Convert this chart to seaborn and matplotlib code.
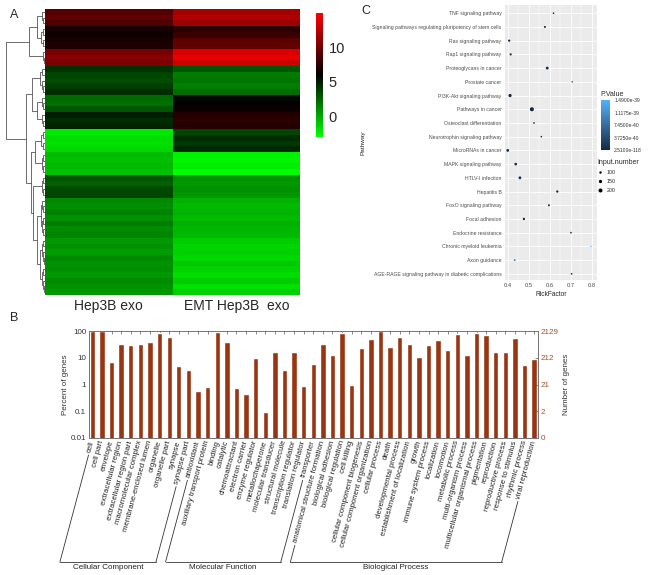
import numpy as np
import pandas as pd
import matplotlib
matplotlib.use('Agg')
import matplotlib.pyplot as plt
import seaborn as sns
from matplotlib.colors import LinearSegmentedColormap, Normalize
from matplotlib.cm import ScalarMappable
from matplotlib.lines import Line2D
from matplotlib.ticker import NullLocator
from matplotlib.transforms import IdentityTransform

# ---- panel A: expression heatmap ----
samples = ['Hep3B exo', 'EMT Hep3B  exo']
hep3b = [9.0, 9.4, 8.8, 6.8, 6.5, 6.9, 7.0, 10.2, 10.8, 10.4,
         4.2, 3.6, 3.3, 3.8, 4.4, 2.3, 2.0, 3.0, 5.0, 4.4, 4.8,
         -2.2, -1.8, -1.9, -1.6, -0.6, -0.7, -0.5, -0.8,
         3.0, 2.6, 3.4, 3.6, 1.2, 1.0, 1.4, 0.9, 1.6, 1.1, 1.3,
         0.6, 0.9, 0.5, 1.2, 0.8, 1.0, 0.7, 1.1, 0.9, 0.6]
emt = [11.8, 12.2, 11.5, 7.6, 8.0, 9.3, 9.5, 13.6, 14.2, 13.2,
       3.0, 1.6, 1.9, 1.5, 2.2, 5.7, 6.1, 6.4, 7.2, 7.6, 7.3,
       3.6, 4.4, 4.0, 4.6, -2.5, -2.6, -2.3, -2.9,
       0.8, 0.6, 0.9, 0.7, -0.2, -0.5, -0.3, -0.6, -0.2, -0.4, -0.5,
       -1.2, -1.5, -1.3, -1.6, -1.0, -1.4, -1.8, -1.2, -1.9, -1.3]
# clusters of rows (top to bottom) and the joins between them
block_sizes = [3, 4, 3, 5, 3, 3, 4, 4, 4, 7, 10]
block_top = [0.08, 0.1, 0.06, 0.12, 0.07, 0.09, 0.1, 0.08, 0.09, 0.11, 0.13]
block_tree = [1.0,
              [0.42, [0.2, 0, 1], 2],
              [0.5,
               [0.33, 3, [0.2, 4, 5]],
               [0.37, [0.25, 6, 7], [0.3, 8, [0.2, 9, 10]]]]]

# ---- panel B: GO categories ----
go_terms = ['cell', 'cell part', 'envelope', 'extracellular region', 'extracellular region part',
            'macromolecular complex', 'membrane-enclosed lumen', 'organelle', 'organelle part',
            'synapse', 'synapse part',
            'antioxidant', 'auxiliary transport protein', 'binding', 'catalytic', 'chemoattractant',
            'electron carrier', 'enzyme regulator', 'metallochaperone', 'molecular transducer',
            'structural molecule', 'transcription regulator', 'translation regulator', 'transporter',
            'anatomical structure formation', 'biological adhesion', 'biological regulation',
            'cell killing', 'cellular component biogenesis', 'cellular component organization',
            'cellular process', 'death', 'developmental process', 'establishment of localization',
            'growth', 'immune system process', 'localization', 'locomotion', 'metabolic process',
            'multi-organism process', 'multicellular organismal process', 'pigmentation',
            'reproduction', 'reproductive process', 'response to stimulus', 'rhythmic process',
            'viral reproduction']
go_percent = [100, 100, 7.1, 33.6, 30.8, 31.8, 38.8, 84, 58, 4.8, 3.4,
              0.57, 0.78, 92, 38.8, 0.73, 0.46, 10, 0.094, 16.4, 3.6, 16.4, 0.88, 5.7,
              31.8, 12.7, 87, 0.99, 23.8, 50, 100, 26, 60, 33, 10.7, 30, 45, 19, 79,
              13, 84, 73, 16.4, 16.4, 55, 5.2, 9.2]
go_groups = ['Cellular Component', 'Molecular Function', 'Biological Process']
go_group_sizes = [11, 13, 23]
pct_ticks = [0.01, 0.1, 1, 10, 100]
pct_labels = ['0.01', '0.1', '1', '10', '100']
num_labels = ['0', '2', '21', '212', '2129']

# ---- panel C: KEGG enrichment ----
pathways = ['TNF signaling pathway', 'Signaling pathways regulating pluripotency of stem cells',
            'Ras signaling pathway', 'Rap1 signaling pathway', 'Proteoglycans in cancer',
            'Prostate cancer', 'PI3K-Akt signaling pathway', 'Pathways in cancer',
            'Osteoclast differentiation', 'Neurotrophin signaling pathway', 'MicroRNAs in cancer',
            'MAPK signaling pathway', 'HTLV-I infection', 'Hepatitis B', 'FoxO signaling pathway',
            'Focal adhesion', 'Endocrine resistance', 'Chronic myeloid leukemia', 'Axon guidance',
            'AGE-RAGE signaling pathway in diabetic complications']
rich_factor = [0.617, 0.576, 0.406, 0.413, 0.587, 0.706, 0.41, 0.514, 0.524, 0.559,
               0.399, 0.437, 0.457, 0.635, 0.595, 0.476, 0.70, 0.795, 0.432, 0.703]
p_value = [2.1e-45, 3.5e-50, 1.2e-70, 4.0e-68, 6.3e-62, 3.9e-40, 2.5e-100, 2.51e-118,
           8.0e-44, 1.7e-46, 5.5e-72, 3.0e-80, 7.1e-85, 2.2e-58, 9.4e-52, 1.8e-75,
           2.6e-41, 1.49e-39, 1.02e-39, 5.0e-41]
input_number = [68, 82, 93, 87, 119, 63, 145, 204, 69, 67, 118, 111, 118, 93, 79, 96,
                69, 58, 76, 70]
p_ticks = [2.51e-118, 3.725e-40, 7.45e-40, 1.1175e-39, 1.49e-39]
p_tick_labels = ['2.5100e-118', '3.7250e-40', '7.4500e-40', '1.1175e-39', '1.4900e-39']
size_breaks = [100, 150, 200]

sns.set_style('white')
plt.rcParams['font.family'] = ['Liberation Sans', 'DejaVu Sans']

W, H = 652, 575
fig = plt.figure(figsize=(W / 100, H / 100), dpi=100)


def px_axes(x0, y0, x1, y1):
    return fig.add_axes([x0 / W, 1 - y1 / H, (x1 - x0) / W, (y1 - y0) / H])


# ================= A =================
ax_dn = px_axes(5, 9, 45, 295)
ax_hm = px_axes(45, 9, 300, 295)
ax_cb = px_axes(316, 13, 323, 137)

gbr = LinearSegmentedColormap.from_list('gbr', ['#00FF00', '#000000', '#FF0000'])
df_hm = pd.DataFrame({samples[0]: hep3b, samples[1]: emt})
sns.heatmap(df_hm, cmap=gbr, vmin=-3, vmax=15, ax=ax_hm, cbar_ax=ax_cb,
            yticklabels=False, xticklabels=samples)
ax_hm.tick_params(axis='x', length=0, pad=3, labelsize=10, rotation=0)
cbar = ax_hm.collections[0].colorbar
cbar.outline.set_visible(False)
cbar.set_ticks([0, 5, 10])
ax_cb.tick_params(length=0, labelsize=10.5, pad=4)

starts = [int(v) for v in np.cumsum([0] + block_sizes[:-1])]


def sub_tree(rows, h):
    if len(rows) == 1:
        return rows[0]
    mid = len(rows) // 2
    return [h, sub_tree(rows[:mid], h * 0.6), sub_tree(rows[mid:], h * 0.6)]


def expand(node):
    if not isinstance(node, list):
        rows = list(range(starts[node], starts[node] + block_sizes[node]))
        return sub_tree(rows, block_top[node])
    return [node[0], expand(node[1]), expand(node[2])]


def draw_tree(node, ax):
    if not isinstance(node, list):
        return node + 0.5, 0.0
    h, a, b = node
    ya, ha = draw_tree(a, ax)
    yb, hb = draw_tree(b, ax)
    ax.plot([ha, h, h, hb], [ya, ya, yb, yb], color='#555555', lw=0.6)
    return (ya + yb) / 2, h


draw_tree(expand(block_tree), ax_dn)
ax_dn.set_xlim(1.03, 0)
ax_dn.set_ylim(len(hep3b), 0)
ax_dn.axis('off')

# ================= B =================
ax_b = px_axes(89, 331, 538, 438)
bar_color = '#9A3512'
sns.barplot(x=go_terms, y=go_percent, color=bar_color, saturation=1, width=0.56, ax=ax_b)
ax_b.set_yscale('log')
ax_b.set_ylim(0.01, 100)
ax_b.set_xlim(-0.35, len(go_terms) - 0.6)
ax_b.set_yticks(pct_ticks)
ax_b.set_yticklabels(pct_labels)
ax_b.yaxis.set_minor_locator(NullLocator())
ax_b.set_xticks(range(len(go_terms)))
ax_b.set_xticklabels(go_terms, rotation=75, ha='right', va='center',
                     rotation_mode='anchor', fontsize=5.6, color='#222222')
ax_b.tick_params(axis='x', direction='in', length=2, width=0.5, top=True, pad=2,
                 color='#555555')
ax_b.tick_params(axis='y', direction='in', length=2, width=0.5, labelsize=5.8, pad=2,
                 color='#555555', labelcolor='#333333')
ax_b.set_ylabel('Percent of genes', fontsize=5.8, color='#333333')
ax_b.yaxis.set_label_coords(-0.045, 0.5)
for s in ax_b.spines.values():
    s.set_color('#777777')
    s.set_linewidth(0.7)

ax_r = ax_b.twinx()
ax_r.set_yscale('log')
ax_r.set_ylim(0.01, 100)
ax_r.set_yticks(pct_ticks)
ax_r.set_yticklabels(num_labels)
ax_r.yaxis.set_minor_locator(NullLocator())
ax_r.tick_params(axis='y', direction='in', length=2, width=0.5, labelsize=5.8, pad=2,
                 color='#555555', labelcolor='#A0522D')
ax_r.set_ylabel('Number of genes', fontsize=5.8, color='#333333')
ax_r.yaxis.set_label_coords(1.056, 0.5)
for s in ax_r.spines.values():
    s.set_color('#777777')
    s.set_linewidth(0.7)

# group brackets following the slant of the labels
fig.canvas.draw()
renderer = fig.canvas.get_renderer()
theta = np.deg2rad(75)
dvec = np.array([-np.cos(theta), -np.sin(theta)])
y_floor = H - 562
labels_b = ax_b.get_xticklabels()
i0 = 0
for name, n in zip(go_groups, go_group_sizes):
    ends = []
    for idx in (i0, i0 + n - 1):
        lab = labels_b[idx]
        w, h, d = renderer.get_text_width_height_descent(
            lab.get_text(), lab.get_fontproperties(), ismath=False)
        anchor = np.array(lab.get_transform().transform(lab.get_position()))
        start = anchor + (w + 3) * dvec
        t = (start[1] - y_floor) / np.sin(theta)
        end = start + t * dvec
        fig.add_artist(Line2D([start[0], end[0]], [start[1], end[1]],
                              transform=IdentityTransform(), color='#333333', lw=0.6))
        ends.append(end)
    fig.add_artist(Line2D([ends[0][0], ends[1][0]], [ends[0][1], ends[1][1]],
                          transform=IdentityTransform(), color='#333333', lw=0.6))
    fig.text((ends[0][0] + ends[1][0]) / 2 / W, (y_floor - 2) / H, name,
             ha='center', va='top', fontsize=5.8, color='#222222')
    i0 += n

# ================= C =================
ax_c = px_axes(505, 5, 597, 280)
pcmap = LinearSegmentedColormap.from_list('ggblue', ['#132B43', '#56B1F7'])
pnorm = Normalize(0, max(p_value))
df_c = pd.DataFrame({'Pathway': pathways, 'RichFactor': rich_factor,
                     'P.Value': p_value, 'Input.number': input_number})
size_range = (0.9, 8.5)
size_norm = (min(input_number), max(input_number))
sns.scatterplot(data=df_c, x='RichFactor', y='Pathway', hue='P.Value', palette=pcmap,
                hue_norm=pnorm, size='Input.number', sizes=size_range, size_norm=size_norm,
                linewidth=0, legend=False, ax=ax_c, zorder=3)
ax_c.set_facecolor('#EBEBEB')
ax_c.set_xlim(0.386, 0.824)
ax_c.set_ylim(len(pathways) - 0.55, -0.6)
ax_c.set_xticks([0.4, 0.5, 0.6, 0.7, 0.8])
ax_c.set_xticks([0.45, 0.55, 0.65, 0.75], minor=True)
ax_c.grid(True, which='major', color='white', lw=0.6)
ax_c.grid(True, which='minor', axis='x', color='white', lw=0.3)
ax_c.set_axisbelow(True)
for s in ax_c.spines.values():
    s.set_visible(False)
ax_c.tick_params(which='major', length=1.5, width=0.4, color='#333333',
                 labelsize=3.7, labelcolor='#4D4D4D', pad=1)
ax_c.tick_params(which='minor', length=0)
ax_c.tick_params(axis='x', labelsize=4.2)
ax_c.set_xlabel('RickFactor', fontsize=4.8)
ax_c.xaxis.set_label_coords(0.5, -0.04)
ax_c.set_ylabel('Pathway', fontsize=4.6)
ax_c.yaxis.set_label_coords(-1.52, 0.5)

# P.Value colour bar
ax_pc = px_axes(601, 100, 610, 150)
pcb = fig.colorbar(ScalarMappable(norm=pnorm, cmap=pcmap), cax=ax_pc)
pcb.outline.set_visible(False)
pcb.set_ticks(p_ticks)
pcb.set_ticklabels(p_tick_labels)
ax_pc.tick_params(length=1.5, width=0.4, color='white', labelsize=3.6, pad=1.5,
                  labelcolor='#333333')
fig.text(600 / W, 1 - 95 / H, 'P.Value', fontsize=5, va='center', ha='left')

# Input.number size legend
handles = []
for v in size_breaks:
    s = size_range[0] + (v - size_norm[0]) / (size_norm[1] - size_norm[0]) * (size_range[1] - size_range[0])
    handles.append(Line2D([], [], marker='o', linestyle='none', color='black',
                          markersize=np.sqrt(s), markeredgewidth=0))
leg = fig.legend(handles, [str(v) for v in size_breaks], title='Input.number',
                 loc='upper left', bbox_to_anchor=(597 / W, 1 - 159 / H), frameon=False,
                 fontsize=3.8, title_fontsize=5, borderpad=0, borderaxespad=0,
                 labelspacing=0.75, handlelength=1.2, handletextpad=0.6)
leg._legend_box.align = 'left'

# panel letters
fig.text(10 / W, 1 - 15 / H, 'A', fontsize=9, va='center')
fig.text(10 / W, 1 - 318 / H, 'B', fontsize=9, va='center')
fig.text(361 / W, 1 - 11 / H, 'C', fontsize=9, va='center')

fig.savefig('out.png', dpi=100)
